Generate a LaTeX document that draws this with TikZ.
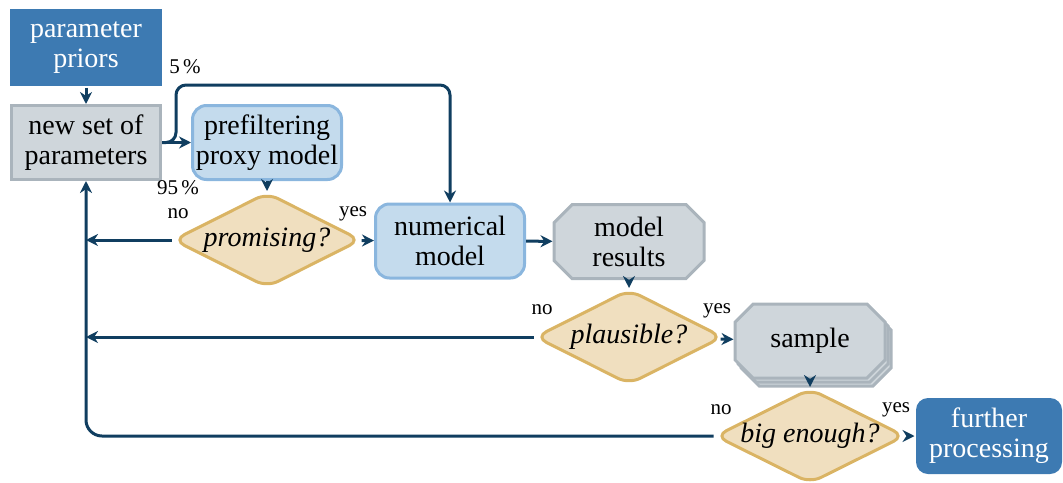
\documentclass[tikz,border=0pt]{standalone}
\usepackage{fontspec}
\setmainfont{Liberation Serif}
\usetikzlibrary{arrows.meta,shapes.geometric,shapes.misc,shadows}

\definecolor{deepblue}{RGB}{61,122,178}
\definecolor{grayfill}{RGB}{207,214,219}
\definecolor{grayline}{RGB}{170,180,188}
\definecolor{paleblue}{RGB}{196,219,237}
\definecolor{paleblueline}{RGB}{138,182,222}
\definecolor{sand}{RGB}{240,223,191}
\definecolor{sandline}{RGB}{218,180,100}
\definecolor{flow}{RGB}{16,62,96}

\begin{document}
\begin{tikzpicture}[x=0.5pt,y=-0.5pt,
  base/.style={align=center, inner sep=1pt, line width=1.5pt,
    font=\fontsize{14}{15}\selectfont},
  startbox/.style={base, rectangle, fill=deepblue, text=white,
    minimum width=76pt, minimum height=38.5pt},
  plainbox/.style={base, rectangle, fill=grayfill, draw=grayline,
    minimum width=74.5pt, minimum height=37pt},
  modelbox/.style={base, rectangle, rounded corners=7pt, fill=paleblue,
    draw=paleblueline, minimum width=74.5pt, minimum height=37pt},
  endbox/.style={base, rectangle, rounded corners=6pt, fill=deepblue,
    text=white, minimum width=73pt, minimum height=38pt},
  resultbox/.style={base, chamfered rectangle, chamfered rectangle xsep=6pt,
    fill=grayfill, draw=grayline, minimum width=75pt, minimum height=37pt},
  decision/.style={base, diamond, aspect=2, inner sep=0pt, rounded corners=6pt,
    fill=sand, draw=sandline, minimum width=94pt, minimum height=47.5pt,
    font=\fontsize{14}{15}\selectfont\itshape},
  tag/.style={font=\fontsize{10.5}{12}\selectfont, inner sep=0pt},
  arr/.style={draw=flow, line width=1.5pt,
    -{Stealth[length=6pt,width=6pt]}}
]
\useasboundingbox (0,0) rectangle (1063,482);

% nodes
\node[startbox] (pp) at (86,47.5) {parameter\\priors};
\node[plainbox] (ns) at (86,142.5) {new set of\\parameters};
\node[modelbox] (pf) at (267,142.5) {prefiltering\\proxy model};
\node[decision] (pr) at (267,240) {promising?};
\node[modelbox] (nm) at (450,241) {numerical\\model};
\node[resultbox] (mr) at (629,241.5) {model\\results};
\node[decision] (pl) at (629,337) {plausible?};
\node[resultbox, double copy shadow={shadow xshift=1.5pt, shadow yshift=-2pt,
  fill=grayfill, draw=grayline, line width=1.5pt}] (sa) at (810,341) {sample};
\node[decision] (be) at (810,436) {big enough?};
\node[endbox] (fp) at (989,436) {further\\processing};

% labels
\node[tag] (l5) at (185,67) {5\,\%};
\node[tag] (l95) at (178,188) {95\,\%};
\node[tag] (n1) at (178,214) {no};
\node[tag] (y1) at (353,214) {yes};
\node[tag] (n2) at (542,310) {no};
\node[tag] (y2) at (717,311) {yes};
\node[tag] (n3) at (721,410) {no};
\node[tag] (y3) at (896,410) {yes};

% connectors
\draw[arr] (pp) -- (ns);
\draw[arr] (ns) -- (pf);
\draw[arr, rounded corners=5pt] (ns.east) -- ++(14,0) |- (nm.north |- 0,85) -- (nm.north);
\draw[arr] (pf) -- (pr);
\draw[arr] (pr) -- (nm);
\draw[arr] (nm) -- (mr);
\draw[arr] (mr) -- (pl);
\draw[arr] (pl) -- (sa);
\draw[arr] (sa.south) -- (be.north);
\draw[arr] (be) -- (fp);
\draw[arr] (pr.west) -- (pr.west -| ns.south);
\draw[arr] (pl.west) -- (pl.west -| ns.south);
\draw[arr, rounded corners=8pt] (be.west) -| (ns.south);
\end{tikzpicture}
\end{document}
